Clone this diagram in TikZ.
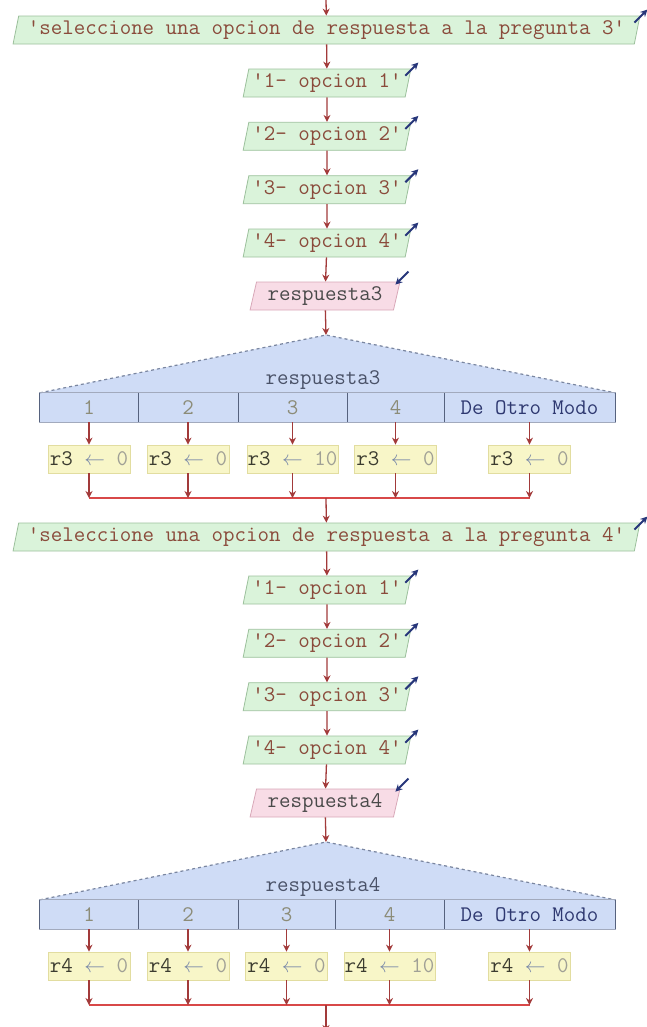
\documentclass[tikz,border=0pt]{standalone}
\usepackage{fontspec}
\usetikzlibrary{shapes.geometric,arrows.meta}
\definecolor{outfill}{HTML}{DAF3DA}
\definecolor{outline}{HTML}{9CC09C}
\definecolor{infill}{HTML}{F8DCE6}
\definecolor{inline}{HTML}{D8A8B8}
\definecolor{strtext}{HTML}{8A4B3B}
\definecolor{intext}{HTML}{4A4A4A}
\definecolor{ioc}{HTML}{27367A}
\definecolor{flowc}{HTML}{A23A3A}
\definecolor{mergec}{HTML}{D84848}
\definecolor{casefill}{HTML}{CFDCF6}
\definecolor{dashc}{HTML}{7A86A0}
\definecolor{divc}{HTML}{56627E}
\definecolor{numc}{HTML}{8C8C78}
\definecolor{otherc}{HTML}{2E3870}
\definecolor{asfill}{HTML}{F8F6C8}
\definecolor{asline}{HTML}{E2DDA0}
\definecolor{asvar}{HTML}{3C3C30}
\definecolor{asarrow}{HTML}{7888A8}
\definecolor{asval}{HTML}{A0A096}
\definecolor{labelc}{HTML}{4A5268}
\newcommand{\qt}{\textquotesingle}
\newcommand{\asg}[2]{{\color{asvar}#1} {\color{asarrow}$\leftarrow$} {\color{asval}#2}}
\tikzset{
  base/.style={font=\ttfamily\fontsize{22.3bp}{24bp}\selectfont, inner sep=0pt},
  para/.style={base, trapezium, trapezium left angle=74, trapezium right angle=106,
    trapezium stretches=true, minimum height=28bp, line width=0.8bp},
  outbox/.style={para, draw=outline, fill=outfill, text=strtext},
  inbox/.style={para, draw=inline, fill=infill, text=intext},
  flow/.style={draw=flowc, line width=1.3bp, -{Stealth[length=7bp,width=7bp]}},
  ioarrow/.style={draw=ioc, line width=2bp, -{Stealth[length=7bp,width=7bp]}},
  assign/.style={base, rectangle, minimum height=28bp, minimum width=82bp, fill=asfill, draw=asline, line width=0.8bp},
  cell/.style={base, rectangle, minimum height=29bp},
  merge/.style={draw=mergec, line width=2.5bp},
  tri/.style={draw=dashc, dashed, line width=1.2bp},
  caseborder/.style={draw=dashc!70, line width=0.8bp},
  divider/.style={draw=divc, line width=1.3bp},
}
\begin{document}
\begin{tikzpicture}[x=1bp,y=-1bp]
\useasboundingbox (0,0) rectangle (647,1027);

% ===================== block for question 3 =====================
\coordinate (top) at (326,0);
\node[outbox, minimum width=629bp] (q3) at (326.5,30) {\qt seleccione una opcion de respuesta a la pregunta 3\qt};
\node[outbox, minimum width=168bp] (o31) at (327,83) {\qt 1- opcion 1\qt};
\node[outbox, minimum width=168bp] (o32) at (327,136.3) {\qt 2- opcion 2\qt};
\node[outbox, minimum width=168bp] (o33) at (327,189.7) {\qt 3- opcion 3\qt};
\node[outbox, minimum width=168bp] (o34) at (327,243) {\qt 4- opcion 4\qt};
\node[inbox, minimum width=150bp] (r3) at (325,296) {respuesta3};

\draw[flow] (top) -- (q3);
\draw[flow] (q3) -- (o31);
\draw[flow] (o31) -- (o32);
\draw[flow] (o32) -- (o33);
\draw[flow] (o33) -- (o34);
\draw[flow] (o34) -- (r3);

\foreach \n in {q3,o31,o32,o33,o34}{
  \draw[ioarrow] ([shift={(-6,7)}]\n.top right corner) -- ([shift={(7,-6)}]\n.top right corner);
}
\draw[ioarrow] ([shift={(8,-10)}]r3.top right corner) -- ([shift={(-5,3)}]r3.top right corner);

% switch 3
\coordinate (apex3) at (326,335);
\node[cell, minimum width=98bp]  (c31) at (89,407.5) {};
\node[cell, minimum width=100bp] (c32) at (188,407.5) {};
\node[cell, minimum width=109bp] (c33) at (292.5,407.5) {};
\node[cell, minimum width=97bp]  (c34) at (395.5,407.5) {};
\node[cell, minimum width=171bp] (c35) at (529.5,407.5) {};
\fill[casefill] (c31.north west) -- (apex3) -- (c35.north east) -- cycle;
\fill[casefill] (c31.north west) rectangle (c35.south east);
\draw[tri] (c31.north west) -- (apex3) -- (c35.north east);
\draw[caseborder] (c31.north west) rectangle (c35.south east);
\draw[divider] (c31.north west) -- (c31.south west);
\draw[divider] (c31.north east) -- (c31.south east);
\draw[divider] (c32.north east) -- (c32.south east);
\draw[divider] (c33.north east) -- (c33.south east);
\draw[divider] (c34.north east) -- (c34.south east);
\draw[divider] (c35.north east) -- (c35.south east);
\node[base, text=numc] at (c31) {1};
\node[base, text=numc] at (c32) {2};
\node[base, text=numc] at (c33) {3};
\node[base, text=numc] at (c34) {4};
\node[base, text=otherc] at (c35) {De Otro Modo};
\node[base, text=labelc] (t3) at (323,380) {respuesta3};
\draw[flow] (r3) -- (apex3);

\node[assign] (a31) at (89,459) {\asg{r3}{0}};
\node[assign] (a32) at (188,459) {\asg{r3}{0}};
\node[assign, minimum width=91bp] (a33) at (292.5,459) {\asg{r3}{10}};
\node[assign] (a34) at (395.5,459) {\asg{r3}{0}};
\node[assign] (a35) at (529.5,459) {\asg{r3}{0}};
\foreach \i in {1,...,5}{
  \draw[flow] (c3\i) -- (a3\i);
}
\coordinate (m31) at (89,498);
\coordinate (m32) at (188,498);
\coordinate (m33) at (292.5,498);
\coordinate (m34) at (395.5,498);
\coordinate (m35) at (529.5,498);
\coordinate (j3) at (326,498);
\draw[merge] (m31) -- (m35);
\foreach \i in {1,...,5}{
  \draw[flow] (a3\i) -- (m3\i);
}

% ===================== block for question 4 =====================
\node[outbox, minimum width=629bp] (q4) at (326.5,537) {\qt seleccione una opcion de respuesta a la pregunta 4\qt};
\node[outbox, minimum width=168bp] (o41) at (327,590) {\qt 1- opcion 1\qt};
\node[outbox, minimum width=168bp] (o42) at (327,643.3) {\qt 2- opcion 2\qt};
\node[outbox, minimum width=168bp] (o43) at (327,696.7) {\qt 3- opcion 3\qt};
\node[outbox, minimum width=168bp] (o44) at (327,750) {\qt 4- opcion 4\qt};
\node[inbox, minimum width=150bp] (r4) at (325,803) {respuesta4};

\draw[flow] (j3) -- (q4);
\draw[flow] (q4) -- (o41);
\draw[flow] (o41) -- (o42);
\draw[flow] (o42) -- (o43);
\draw[flow] (o43) -- (o44);
\draw[flow] (o44) -- (r4);

\foreach \n in {q4,o41,o42,o43,o44}{
  \draw[ioarrow] ([shift={(-6,7)}]\n.top right corner) -- ([shift={(7,-6)}]\n.top right corner);
}
\draw[ioarrow] ([shift={(8,-10)}]r4.top right corner) -- ([shift={(-5,3)}]r4.top right corner);

\coordinate (apex4) at (326,842);
\node[cell, minimum width=98bp]  (c41) at (89,914.5) {};
\node[cell, minimum width=100bp] (c42) at (188,914.5) {};
\node[cell, minimum width=97bp]  (c43) at (286.5,914.5) {};
\node[cell, minimum width=109bp] (c44) at (389.5,914.5) {};
\node[cell, minimum width=171bp] (c45) at (529.5,914.5) {};
\fill[casefill] (c41.north west) -- (apex4) -- (c45.north east) -- cycle;
\fill[casefill] (c41.north west) rectangle (c45.south east);
\draw[tri] (c41.north west) -- (apex4) -- (c45.north east);
\draw[caseborder] (c41.north west) rectangle (c45.south east);
\draw[divider] (c41.north west) -- (c41.south west);
\draw[divider] (c41.north east) -- (c41.south east);
\draw[divider] (c42.north east) -- (c42.south east);
\draw[divider] (c43.north east) -- (c43.south east);
\draw[divider] (c44.north east) -- (c44.south east);
\draw[divider] (c45.north east) -- (c45.south east);
\node[base, text=numc] at (c41) {1};
\node[base, text=numc] at (c42) {2};
\node[base, text=numc] at (c43) {3};
\node[base, text=numc] at (c44) {4};
\node[base, text=otherc] at (c45) {De Otro Modo};
\node[base, text=labelc] (t4) at (323,887) {respuesta4};
\draw[flow] (r4) -- (apex4);

\node[assign] (a41) at (89,966) {\asg{r4}{0}};
\node[assign] (a42) at (188,966) {\asg{r4}{0}};
\node[assign] (a43) at (286.5,966) {\asg{r4}{0}};
\node[assign, minimum width=91bp] (a44) at (389.5,966) {\asg{r4}{10}};
\node[assign] (a45) at (529.5,966) {\asg{r4}{0}};
\foreach \i in {1,...,5}{
  \draw[flow] (c4\i) -- (a4\i);
}
\coordinate (m41) at (89,1005);
\coordinate (m42) at (188,1005);
\coordinate (m43) at (286.5,1005);
\coordinate (m44) at (389.5,1005);
\coordinate (m45) at (529.5,1005);
\coordinate (j4) at (326,1005);
\coordinate (bot) at (326,1032);
\draw[merge] (m41) -- (m45);
\foreach \i in {1,...,5}{
  \draw[flow] (a4\i) -- (m4\i);
}
\draw[flow] (j4) -- (bot);
\end{tikzpicture}
\end{document}
